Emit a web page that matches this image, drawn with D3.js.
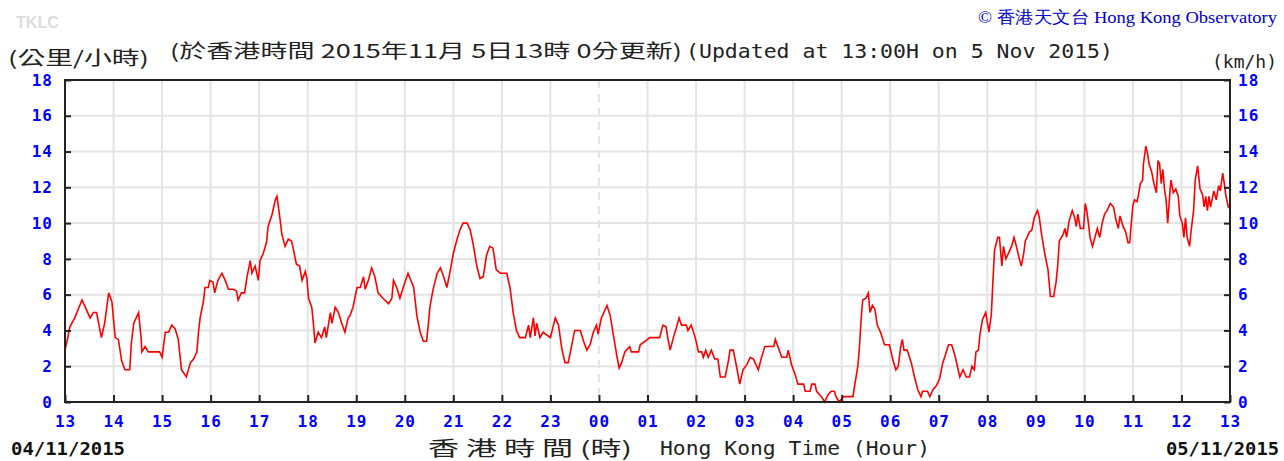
<!DOCTYPE html>
<html>
<head>
<meta charset="UTF-8">
<title>TKLC wind speed</title>
<script src="https://d3js.org/d3.v7.min.js"></script>
<style>
  body { margin: 0; background: #fff; }
  svg { display: block; }
</style>
</head>
<body>
<svg id="chart" width="1284" height="461"></svg>
<script>
// hour labels along the bottom, one per hour from 13:00 (4 Nov) to 13:00 (5 Nov)
var hourLabels = ["13","14","15","16","17","18","19","20","21","22","23","00",
                  "01","02","03","04","05","06","07","08","09","10","11","12","13"];
var speedTicks = [0, 2, 4, 6, 8, 10, 12, 14, 16, 18];

// minutes after 13:00 on 04/11/2015
var windMinutes = [0,3,6,12,21,25,31,35,39,45,49,54,58,62,66,70,74,80,82,85,91,94,95,99,103,117,120,124,128,132,136,140,144,150,155,159,163,165,167,171,173,177,179,183,185,189,194,198,202,208,212,214,218,222,225,229,231,235,239,241,245,249,251,256,260,262,265,268,272,276,280,282,286,290,293,297,299,301,305,307,309,313,317,321,323,328,330,334,338,342,346,350,
  352,356,361,365,369,371,375,379,383,387,393,400,404,406,410,414,418,424,431,435,439,443,447,449,451,455,460,464,468,472,476,480,484,488,492,497,501,505,509,513,517,521,525,529,533,538,546,550,554,558,562,569,573,575,579,581,583,587,591,600,606,610,614,618,622,626,630,637,641,645,649,653,657,659,663,667,670,674,678,682,685,688,692,698,700,709,
  711,723,735,739,743,745,748,752,756,759,762,768,770,774,779,783,787,789,792,795,799,803,807,810,816,820,822,826,830,834,838,843,847,851,855,857,861,865,876,878,882,886,892,894,898,902,906,913,915,921,923,927,929,935,939,943,947,951,953,957,962,974,976,980,982,984,986,990,993,995,998,1001,1004,1008,1013,1019,1023,1027,1030,1033,1035,1037,1041,1046,1050,1054,1058,1060,1066,
  1069,1073,1077,1081,1085,1088,1092,1096,1100,1104,1106,1110,1114,1118,1121,1124,1126,1129,1131,1134,1138,1141,1142,1145,1147,1149,1153,1155,1158,1160,1163,1168,1170,1173,1176,1179,1182,1185,1187,1192,1195,1198,1202,1204,1207,1211,1215,1218,1222,1225,1227,1229,1234,1236,1238,1241,1245,1248,1250,1252,1255,1259,1261,1263,1265,1267,1270,1273,1276,1279,1282,1285,1288,1292,1296,1299,1302,1304,1308,1311,1314,1316,1318,1320,1322,1325,1327,1329,1332,1333,1336,1338,1340,1343,1346,1349,1351,1353,1355,1357,1359,1361,1363,1366,1367,1370,1373,1376,1378,1381,1383,1385,1387,1390,1392,1395,1397,1400,1403,1406,1408,1410,1412,1414,1416,1420,1423,1426,1428,1431,1433,1435,1438,1440];

// wind speed (km/h) at those minutes
var windSpeed = [2.9,3.5,4.2,4.7,5.7,5.3,4.7,5.0,5.0,3.6,4.4,6.1,5.6,3.6,3.5,2.3,1.8,1.8,3.3,4.4,5.0,3.6,2.8,3.1,2.8,2.8,2.5,3.9,3.9,4.3,4.1,3.5,1.8,1.4,2.2,2.4,2.8,3.9,4.7,5.6,6.4,6.4,6.8,6.7,6.1,6.8,7.2,6.8,6.3,6.3,6.2,5.7,6.1,6.1,7.0,7.9,7.2,7.6,6.8,7.9,8.3,8.9,9.8,10.5,11.3,11.5,10.5,9.4,8.7,9.1,9.0,8.6,7.7,7.6,6.8,7.3,6.9,5.8,5.3,4.4,3.3,3.9,3.6,4.2,3.6,5.0,4.4,5.3,5.0,4.4,3.9,4.7,
  4.8,5.3,6.4,6.4,7.0,6.3,6.8,7.5,7.0,6.1,5.8,5.5,5.8,6.8,6.4,5.8,6.4,7.2,6.4,4.8,3.9,3.4,3.4,4.3,5.3,6.3,7.2,7.5,7.0,6.4,7.3,8.3,9.0,9.6,10.0,10.0,9.6,8.7,7.6,6.9,7.0,8.2,8.7,8.6,7.4,7.2,7.2,6.4,5.0,4.0,3.6,3.6,4.3,3.6,4.7,3.7,4.4,3.6,3.9,3.6,4.7,4.3,3.0,2.2,2.2,3.1,4.0,4.0,3.4,2.9,3.2,3.9,4.3,3.8,4.7,5.1,5.4,4.8,3.7,2.6,1.9,2.2,2.8,3.1,2.8,2.8,
  3.2,3.6,3.6,4.3,4.2,3.6,2.9,3.6,4.2,4.7,4.3,4.3,4.0,4.3,3.6,2.8,2.8,2.5,2.9,2.5,2.9,2.4,2.4,1.4,1.4,2.3,2.9,2.9,2.0,1.0,1.8,2.1,2.5,2.4,2.0,1.8,2.5,3.1,3.1,3.5,3.0,2.5,2.5,2.9,2.1,1.6,1.0,1.0,0.6,0.6,1.0,1.0,0.6,0.3,0.0,0.4,0.6,0.6,0.3,0.0,0.3,0.3,0.9,2.0,3.1,4.6,5.7,5.8,6.1,5.0,5.4,5.2,4.3,3.9,3.2,3.2,2.4,1.8,2.0,3.1,3.5,2.9,2.9,2.2,1.4,0.7,0.3,0.6,0.6,
  0.3,0.7,0.9,1.3,2.2,2.6,3.2,3.2,2.6,1.8,1.4,1.8,1.4,1.4,2.0,1.8,2.8,2.9,3.8,4.6,5.0,4.2,3.9,4.9,6.8,8.5,9.2,9.2,7.6,8.7,8.0,8.5,8.7,9.2,8.7,8.1,7.6,8.3,9.0,9.5,9.6,10.3,10.7,10.4,9.4,8.3,7.4,5.9,5.9,6.7,7.6,9.0,9.4,9.7,9.2,10.1,10.7,10.3,9.8,10.5,9.7,9.7,11.1,10.7,10.0,9.2,8.7,9.2,9.7,9.2,10.0,10.5,10.7,11.1,10.9,10.2,9.7,10.4,9.8,9.5,8.9,8.9,10.0,11.0,11.3,11.2,11.6,12.2,12.4,13.3,14.3,13.9,13.3,12.9,12.2,11.7,13.5,13.3,12.2,13.0,11.9,11.3,10.0,11.9,12.4,11.7,11.9,11.5,10.4,10.0,9.2,10.3,9.2,8.7,9.6,10.7,12.4,13.2,11.9,11.6,10.9,11.5,10.7,11.5,10.9,11.8,11.3,12.1,11.8,12.8,12.2,11.5,10.9,11.0];

var svg = d3.select("#chart");
var plotLeft = 65, plotRight = 1230, plotTop = 80, plotBottom = 402;
var mono = "'DejaVu Sans Mono', monospace";
var cjk = "'Noto Sans CJK TC', 'Noto Sans CJK SC', sans-serif";

var x = d3.scaleLinear().domain([0, (hourLabels.length - 1) * 60]).range([plotLeft, plotRight]);
var y = d3.scaleLinear().domain([0, 18]).range([plotBottom, plotTop]);
var hourValues = hourLabels.map(function (d, i) { return i * 60; });

// grid
var grid = svg.append("g");
grid.selectAll("line.v").data(hourValues.slice(1, -1)).enter().append("line")
    .attr("x1", function (d) { return x(d); }).attr("x2", function (d) { return x(d); })
    .attr("y1", plotTop).attr("y2", plotBottom)
    .attr("stroke", "#e4e4e4").attr("stroke-width", 2)
    .attr("stroke-dasharray", function (d, i) { return hourLabels[i + 1] == "00" ? "8,6" : null; });
grid.selectAll("line.h").data(speedTicks.slice(1, -1)).enter().append("line")
    .attr("x1", plotLeft).attr("x2", plotRight)
    .attr("y1", function (d) { return y(d); }).attr("y2", function (d) { return y(d); })
    .attr("stroke", "#e4e4e4").attr("stroke-width", 2);

// data line
var line = d3.line()
    .x(function (d, i) { return x(windMinutes[i]); })
    .y(function (d) { return y(d); });
svg.append("path").datum(windSpeed)
    .attr("d", line)
    .attr("fill", "none").attr("stroke", "#ff0000").attr("stroke-width", 1.6)
    .attr("stroke-linejoin", "miter");

// axes
function styleAxis(g) {
    g.select(".domain").remove();
    g.selectAll(".tick line").attr("stroke", "#222").attr("stroke-width", 2);
    g.selectAll(".tick text")
        .attr("fill", "#0000ff").style("font-family", mono)
        .style("font-weight", "bold").style("font-size", "16px").style("letter-spacing", "1px");
}
svg.append("g").attr("transform", "translate(0," + plotBottom + ")")
    .call(d3.axisBottom(x).tickValues(hourValues)
        .tickFormat(function (d, i) { return hourLabels[i]; })
        .tickSize(-7).tickSizeOuter(0).tickPadding(14))
    .call(styleAxis);
svg.append("g").attr("transform", "translate(" + plotLeft + ",0)")
    .call(d3.axisLeft(y).tickValues(speedTicks).tickSize(-6).tickSizeOuter(0).tickPadding(12))
    .call(styleAxis);
svg.append("g").attr("transform", "translate(" + plotRight + ",0)")
    .call(d3.axisRight(y).tickValues(speedTicks).tickSize(-6).tickSizeOuter(0).tickPadding(8))
    .call(styleAxis);

// frame
svg.append("rect")
    .attr("x", plotLeft).attr("y", plotTop)
    .attr("width", plotRight - plotLeft).attr("height", plotBottom - plotTop)
    .attr("fill", "none").attr("stroke", "#222").attr("stroke-width", 2);

// texts
function label(str, x0, yb, width, font, size, weight, color) {
    return svg.append("text").text(str)
        .attr("x", x0).attr("y", yb)
        .attr("textLength", width).attr("lengthAdjust", "spacingAndGlyphs")
        .style("font-family", font).style("font-size", size + "px")
        .style("font-weight", weight).attr("fill", color);
}
label("TKLC", 16, 28, 43, "'Liberation Sans', Arial, sans-serif", 16, "bold", "#dcdcdc");
label("\u00a9 香港天文台 Hong Kong Observatory", 978, 23, 299, "'Liberation Serif', serif", 17, "normal", "#0000cc");
label("(公里/小時)", 8, 65, 141, cjk, 19, "normal", "#222");
label("(於香港時間 2015年11月 5日13時 0分更新)", 170, 58, 512, cjk, 19, "normal", "#222");
label("(Updated at 13:00H on 5 Nov 2015)", 686, 58, 427, mono, 20, "normal", "#222");
label("(km/h)", 1212, 68, 65, mono, 18, "normal", "#222");
label("04/11/2015", 11, 455, 114, mono, 17, "bold", "#111");
label("05/11/2015", 1166, 455, 113, mono, 17, "bold", "#111");
label("香 港 時 間 (時)", 428, 456, 204, cjk, 20, "normal", "#222");
label("Hong Kong Time (Hour)", 660, 455, 270, mono, 20, "normal", "#222");
</script>
</body>
</html>
